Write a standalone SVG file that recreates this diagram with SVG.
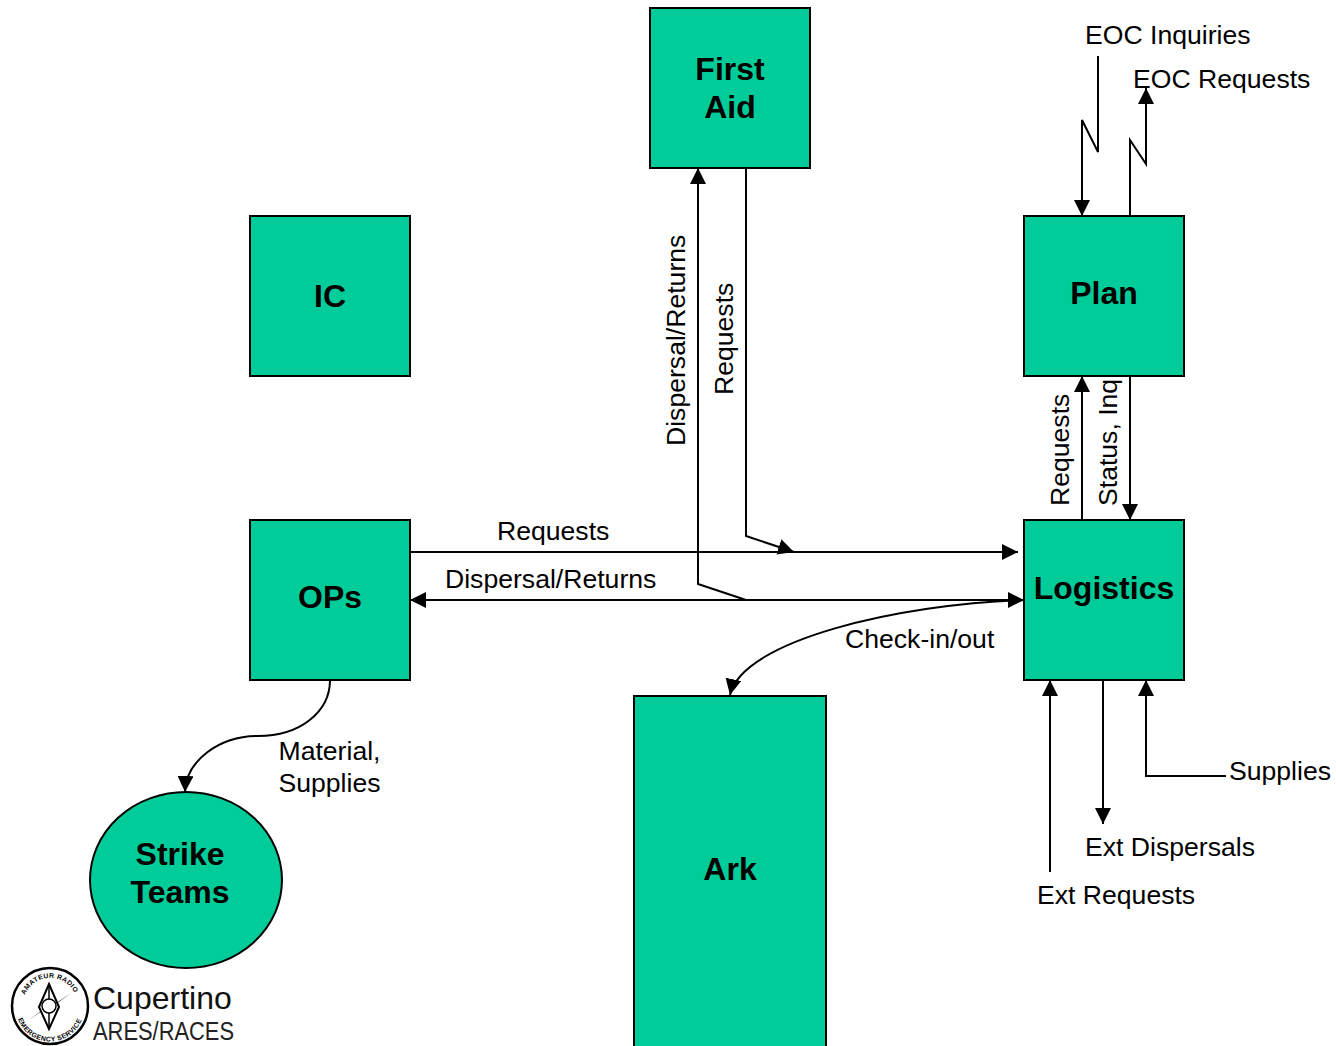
<svg xmlns="http://www.w3.org/2000/svg" width="1336" height="1046" viewBox="0 0 1336 1046">
<style>
.n{fill:#00cc99;stroke:#000;stroke-width:2}
.t{font:bold 32px "Liberation Sans",Arial,sans-serif;fill:#000;text-anchor:middle}
.l{font:26.6px "Liberation Sans",Arial,sans-serif;fill:#000}
.c{fill:none;stroke:#000;stroke-width:2}
.a{fill:#000;stroke:none}
.s{font:bold 6.8px "Liberation Sans",Arial,sans-serif;fill:#000;letter-spacing:.4px}
</style>
<defs>
<marker id="ah" markerUnits="userSpaceOnUse" markerWidth="16" markerHeight="16" refX="16" refY="8" orient="auto"><path class="a" d="M0 0L16 8L0 16Z"/></marker>
<path id="arcTop" d="M25 995A27 27 0 0 1 76 997"/>
<path id="arcBot" d="M18 1019A34 34 0 0 0 82 1019"/>
</defs>
<rect width="1336" height="1046" fill="#fff"/>
<g id="connectors">
<path class="c" d="M1098 56V152L1082 120V216" marker-end="url(#ah)"/>
<path class="c" d="M1130 216V140L1146 164V88" marker-end="url(#ah)"/>
<path class="c" d="M1082 520V376" marker-end="url(#ah)"/>
<path class="c" d="M1130 376V520" marker-end="url(#ah)"/>
<path class="c" d="M410 552H1018" marker-end="url(#ah)"/>
<path class="c" d="M746 168V536L794 552" marker-end="url(#ah)"/>
<path class="c" d="M1024 600H410" marker-end="url(#ah)"/>
<path class="c" d="M746 600L698 584V168" marker-end="url(#ah)"/>
<path class="c" d="M746 600H1024" marker-end="url(#ah)"/>
<path class="c" d="M1024 600C900 604 742 640 730 695" marker-end="url(#ah)"/>
<path class="c" d="M330 680C330 712 300 736 258 736C220 736 186 760 185 792" marker-end="url(#ah)"/>
<path class="c" d="M1050 872V680" marker-end="url(#ah)"/>
<path class="c" d="M1103 680V824" marker-end="url(#ah)"/>
<path class="c" d="M1226 776H1146V680" marker-end="url(#ah)"/>
</g>
<g id="first-aid"><rect class="n" x="650" y="8" width="160" height="160"/><text class="t" x="730" y="80">First</text><text class="t" x="730" y="118">Aid</text></g>
<g id="ic"><rect class="n" x="250" y="216" width="160" height="160"/><text class="t" x="330" y="307">IC</text></g>
<g id="plan"><rect class="n" x="1024" y="216" width="160" height="160"/><text class="t" x="1104" y="304">Plan</text></g>
<g id="ops"><rect class="n" x="250" y="520" width="160" height="160"/><text class="t" x="330" y="608">OPs</text></g>
<g id="logistics"><rect class="n" x="1024" y="520" width="160" height="160"/><text class="t" x="1104" y="599">Logistics</text></g>
<g id="ark"><rect class="n" x="634" y="696" width="192" height="360"/><text class="t" x="730" y="880">Ark</text></g>
<g id="strike-teams"><ellipse class="n" cx="186" cy="880" rx="96" ry="88"/><text class="t" x="180" y="865">Strike</text><text class="t" x="180" y="903">Teams</text></g>
<g id="labels">
<text class="l" x="1085" y="44">EOC Inquiries</text>
<text class="l" x="1133" y="88">EOC Requests</text>
<text class="l" x="497" y="540">Requests</text>
<text class="l" x="445" y="588">Dispersal/Returns</text>
<text class="l" x="845" y="648">Check-in/out</text>
<text class="l" x="278.500" y="760">Material,</text>
<text class="l" x="278.500" y="792">Supplies</text>
<text class="l" x="1229" y="780">Supplies</text>
<text class="l" x="1085" y="856">Ext Dispersals</text>
<text class="l" x="1037" y="904">Ext Requests</text>
<text class="l" transform="translate(685,446) rotate(-90)">Dispersal/Returns</text>
<text class="l" transform="translate(733,395) rotate(-90)">Requests</text>
<text class="l" transform="translate(1069,506) rotate(-90)">Requests</text>
<text class="l" transform="translate(1117,506) rotate(-90)">Status, Inq</text>
</g>
<g id="logo">
<circle cx="50" cy="1006" r="38" fill="#fff" stroke="#000" stroke-width="2.500"/>
<path d="M29 1020L46 1008L44 1013L71 993L55 1004L57 999Z" fill="#000"/>
<path d="M49 984L59 1007L49 1029L39 1007Z" fill="#fff" stroke="#000" stroke-width="2"/>
<path d="M49 986V1027" stroke="#000" stroke-width="1.500"/>
<circle cx="49" cy="1006" r="7" fill="#fff" stroke="#000" stroke-width="1.500"/>
<text class="s"><textPath href="#arcTop">AMATEUR RADIO</textPath></text>
<text class="s"><textPath href="#arcBot">EMERGENCY SERVICE</textPath></text>
<text x="93" y="1009" style="font:32px 'Liberation Sans',Arial,sans-serif;fill:#111">Cupertino</text>
<text x="93" y="1040" style="font:26px 'Liberation Sans',Arial,sans-serif;fill:#222" textLength="141" lengthAdjust="spacingAndGlyphs">ARES/RACES</text>
</g>
</svg>
